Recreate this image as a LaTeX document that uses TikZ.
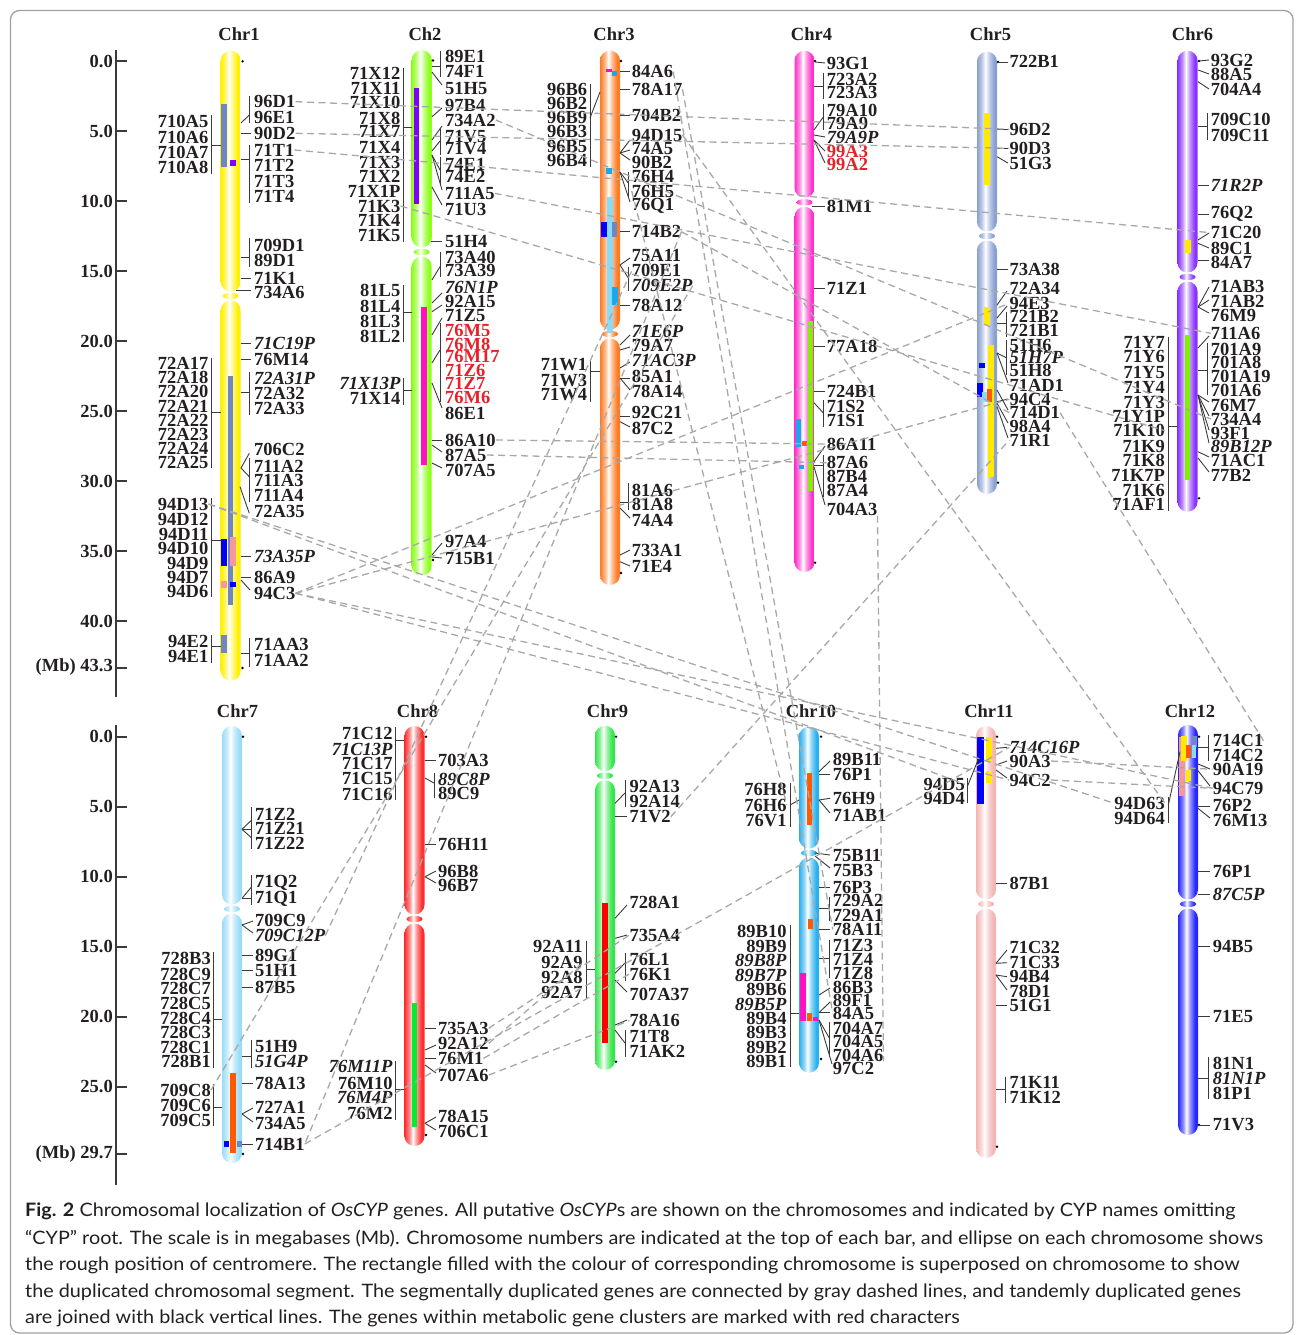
\documentclass[tikz,border=0pt]{standalone}
\usepackage{fontspec}
\setmainfont{Liberation Serif}
\newfontfamily\capfont[FakeStretch=1.07]{Lato}
\definecolor{txtc}{HTML}{231F20}
\definecolor{cnc}{HTML}{3A3A3A}
\definecolor{dashc}{HTML}{A8A8A8}
\definecolor{labred}{HTML}{E8202A}
\definecolor{framec}{HTML}{A0A0A0}
\definecolor{k1}{HTML}{FFF000}
\definecolor{k2}{HTML}{8CFF1A}
\definecolor{k3}{HTML}{FF7A22}
\definecolor{k4}{HTML}{FF30C8}
\definecolor{k5}{HTML}{8AA0D2}
\definecolor{k6}{HTML}{8A33FF}
\definecolor{k7}{HTML}{9ADCF8}
\definecolor{k8}{HTML}{FF2E2E}
\definecolor{k9}{HTML}{33E64A}
\definecolor{k10}{HTML}{2AB0EE}
\definecolor{k11}{HTML}{F4B4B4}
\definecolor{k12}{HTML}{2626FF}
\definecolor{s1}{HTML}{FFEA00}
\definecolor{s2}{HTML}{7FF200}
\definecolor{s3}{HTML}{FF5A00}
\definecolor{s4}{HTML}{FF10C0}
\definecolor{s5}{HTML}{6F86C6}
\definecolor{s6}{HTML}{7F00FF}
\definecolor{s7}{HTML}{88DCF8}
\definecolor{s8}{HTML}{FF0000}
\definecolor{s9}{HTML}{00EE30}
\definecolor{s10}{HTML}{18A8EE}
\definecolor{s11}{HTML}{F49898}
\definecolor{s12}{HTML}{0000FF}
\colorlet{chrc}{k1}
\pgfdeclarehorizontalshading[chrc]{chrsh}{100bp}{color(0bp)=(chrc);color(25bp)=(chrc);color(37bp)=(chrc!55!white);color(46bp)=(white);color(55bp)=(chrc!50!white);color(68bp)=(chrc);color(100bp)=(chrc)}
\newcommand\lf{\fontsize{18.5}{18.5}\selectfont\bfseries}
\tikzset{
 lab/.style={font=\lf, inner sep=0pt, text=txtc},
 nrm/.style={},
 itl/.style={font=\lf\itshape},
 red2/.style={text=labred},
 cn/.style={draw=cnc, line width=0.9pt},
 axl/.style={draw=cnc, line width=2pt},
 dup/.style={draw=dashc, line width=1.3pt, dash pattern=on 7pt off 4.5pt},
 capt/.style={font=\capfont\fontsize{18.5}{18.5}\selectfont, inner sep=0pt, text=txtc, anchor=west},
}
\newcommand\chrom[6]{%
 \colorlet{chrc}{#6}%
 \shade[shading=chrsh, rounded corners=9.9pt] (#2-10,#3) rectangle (#2+10,#4-4.5);
 \shade[shading=chrsh, rounded corners=9.9pt] (#2-10,#4+4.5) rectangle (#2+10,#5);
 \shade[shading=chrsh] (#2,#4) ellipse (8 and 3.2);
 \coordinate (#1) at (#2,#3);
}
\newcommand\RS[3]{\foreach \qy/\qt/\qs in {#3}{\node[lab,\qs,anchor=west] (#1-\qt) at (#2,\qy) {\qt};}}
\newcommand\LS[3]{\foreach \qy/\qt/\qs in {#3}{\node[lab,\qs,anchor=east] (#1-\qt) at (#2,\qy) {\qt};}}
\newcommand\Cx[4]{\draw[cn] (#1,#2) -- (#3,#4);}
\newcommand\Bk[3]{\draw[cn] (#1,#2) -- (#1,#3);}
\newcommand\Sg[5]{\fill[#5] (#1,#2) rectangle (#3,#4);}
\newcommand\Dt[2]{\fill[black] (#1,#2) circle (1.3);}
\begin{document}
\begin{tikzpicture}[x=1pt,y=-1pt]
\useasboundingbox (0,0) rectangle (1295,1335);
\draw[framec, line width=1.3pt, rounded corners=9pt] (10.5,10.5) rectangle (1293,1333);
% axes
\draw[axl] (116,50) -- (116,697);
\foreach \v [count=\i] in {0,5,...,40} {\draw[axl] (116,61.3+14*\v) -- (127,61.3+14*\v); \node[lab,anchor=east] (ta\i) at (113,61.3+14*\v) {\v.0};}
\draw[axl] (116,667.5) -- (127,667.5); \node[lab,anchor=east] (taM) at (113,667.5) {(Mb) 43.3};
\draw[axl] (116,725) -- (116,1185);
\foreach \v [count=\i] in {0,5,...,25} {\draw[axl] (116,736.7+14*\v) -- (127,736.7+14*\v); \node[lab,anchor=east] (ba\i) at (113,736.7+14*\v) {\v.0};}
\draw[axl] (116,1154) -- (127,1154); \node[lab,anchor=east] (baM) at (113,1154) {(Mb) 29.7};
% titles
\node[lab] (T1) at (239,34) {Chr1};
\node[lab] (T2) at (425,34) {Ch2};
\node[lab] (T3) at (614,34) {Chr3};
\node[lab] (T4) at (811.5,34) {Chr4};
\node[lab] (T5) at (990.5,34) {Chr5};
\node[lab] (T6) at (1192.5,34) {Chr6};
\node[lab] (T7) at (237.5,710.7) {Chr7};
\node[lab] (T8) at (417.5,710.7) {Chr8};
\node[lab] (T9) at (607.5,710.7) {Chr9};
\node[lab] (T10) at (811,710.7) {Chr10};
\node[lab] (T11) at (989,710.7) {Chr11};
\node[lab] (T12) at (1190,710.7) {Chr12};
% chromosomes
\chrom{C1}{230.7}{50.7}{296}{680.7}{k1}
\chrom{C2}{421.7}{50}{252}{575.7}{k2}
\chrom{C3}{610}{50.7}{334}{585}{k3}
\chrom{C4}{804.5}{50.7}{202.3}{572}{k4}
\chrom{C5}{987}{51.7}{236}{494}{k5}
\chrom{C6}{1187.5}{50.7}{277}{511.7}{k6}
\chrom{C7}{232}{726}{909}{1163}{k7}
\chrom{C8}{414.5}{726}{919}{1146}{k8}
\chrom{C9}{605}{725.7}{775.7}{1070}{k9}
\chrom{C10}{809}{726.7}{853}{1072.7}{k10}
\chrom{C11}{986}{726}{904}{1158}{k11}
\chrom{C12}{1188}{725}{904}{1135}{k12}
% segments
\Sg{220.7}{104}{226.7}{167.3}{s5}\Sg{230}{160}{236}{165.7}{s6}\Sg{228.3}{375.7}{233.3}{605}{s5}
\Sg{221}{539}{226.7}{566}{s12}\Sg{230}{537.3}{236}{566}{s11}\Sg{221}{581}{227}{587.7}{s11}
\Sg{230}{581.7}{236}{586.7}{s12}\Sg{221}{635}{227}{653.3}{s5}
\Sg{414}{87.7}{419.3}{204.3}{s6}\Sg{420.7}{307.3}{426.7}{465}{s4}
\Sg{606}{69.5}{611.7}{71.7}{s4}\Sg{611.7}{70.7}{617.3}{75.7}{s10}\Sg{605.7}{168.3}{611.7}{174}{s10}
\Sg{606.7}{197.3}{612.7}{333.3}{s7}\Sg{601}{221.7}{606.7}{237.3}{s12}\Sg{611.7}{221.7}{617.3}{237.3}{s5}
\Sg{612.3}{286.7}{618.3}{305}{s10}
\Sg{807.7}{320.7}{813.3}{490.7}{s2}\Sg{795.7}{419.3}{801}{446.7}{s10}\Sg{801.7}{440.7}{806.7}{446}{s3}
\Sg{799}{465}{804.3}{469.3}{s10}
\Sg{984.3}{113.3}{990}{185}{s1}\Sg{984.3}{307.3}{990}{325}{s1}\Sg{988.3}{345}{994}{476.7}{s1}
\Sg{979.3}{363.3}{985}{368.3}{s12}\Sg{977.3}{382.7}{983.3}{396.7}{s12}\Sg{981.7}{391.7}{988.3}{401.7}{s7}
\Sg{986.7}{389.3}{992.3}{401.7}{s3}
\Sg{1185}{335}{1190}{480}{s2}\Sg{1185}{240}{1191}{253.3}{s1}
\Sg{230}{1072.7}{235.7}{1153.3}{s3}\Sg{224}{1140.7}{229.3}{1147.3}{s12}\Sg{236.7}{1140.7}{242.3}{1147.3}{s5}
\Sg{411.7}{1003.3}{417.3}{1126.7}{s9}
\Sg{602.3}{903.3}{608.3}{1042.7}{s8}
\Sg{806.7}{772.7}{812.3}{825}{s3}\Sg{807.7}{919.3}{813.3}{929.3}{s3}\Sg{800}{972.7}{805.7}{1021}{s4}
\Sg{806.7}{1012.7}{812.3}{1021}{s3}\Sg{813.3}{1017.3}{818.3}{1021}{s4}
\Sg{977.3}{736.7}{984}{804.3}{s12}\Sg{986}{736.7}{991.7}{760.7}{s1}\Sg{986}{770.7}{991.7}{782.7}{s1}
\Sg{1179.3}{736.7}{1185}{796}{s11}\Sg{1180.7}{736}{1186.7}{760.7}{s1}\Sg{1186}{745}{1191}{758.3}{s3}
\Sg{1191.7}{736}{1197.3}{746.7}{s5}\Sg{1191.7}{745}{1196}{758.3}{s7}\Sg{1186}{770}{1191}{780.7}{s1}
% dots
\Dt{242.5}{61.3}\Dt{242.5}{668}\Dt{433}{60.5}\Dt{433}{560}\Dt{621}{61}\Dt{621}{573}
\Dt{815}{61}\Dt{815}{562.7}\Dt{998}{62}\Dt{998}{482.7}\Dt{1199}{61}\Dt{1199}{498.3}
\Dt{243}{736.7}\Dt{243}{1154}\Dt{426}{736.7}\Dt{426}{1135}\Dt{616}{736.7}\Dt{616}{1061.7}
\Dt{821}{736.7}\Dt{821}{1059}\Dt{997}{736.7}\Dt{997}{1146.7}\Dt{1199}{736.7}\Dt{1199}{1125}
% ---------- Chr1 labels
\RS{c1}{254}{101.7/96D1/nrm,117.7/96E1/nrm,133.3/90D2/nrm,150/71T1/nrm,165.5/71T2/nrm,181/71T3/nrm,196/71T4/nrm,245/709D1/nrm,260/89D1/nrm,278.3/71K1/nrm,292.7/734A6/nrm,343.3/71C19P/itl,359.3/76M14/nrm,378.3/72A31P/itl,393.3/72A32/nrm,408.3/72A33/nrm,449.3/706C2/nrm,466/711A2/nrm,480/711A3/nrm,495/711A4/nrm,511.7/72A35/nrm,556.7/73A35P/itl,577.3/86A9/nrm,593.3/94C3/nrm,644/71AA3/nrm,660/71AA2/nrm}
\LS{c1}{208.5}{121.7/710A5/nrm,137.3/710A6/nrm,152.7/710A7/nrm,167.3/710A8/nrm,363.3/72A17/nrm,377.5/72A18/nrm,391.7/72A20/nrm,405.9/72A21/nrm,420.1/72A22/nrm,434.3/72A23/nrm,448.5/72A24/nrm,462.7/72A25/nrm,504/94D13/nrm,519/94D12/nrm,534/94D11/nrm,548.5/94D10/nrm,563/94D9/nrm,577.5/94D7/nrm,591.5/94D6/nrm,641.7/94E2/nrm,656.7/94E1/nrm}
\Bk{249.3}{96}{123}\Cx{241}{123}{249.3}{115}\Cx{241}{133.3}{251}{133.3}
\Bk{249.3}{145}{203}\Cx{241}{159}{249.3}{159}\Bk{249.3}{238}{267}\Cx{241}{257}{249.3}{257}
\Cx{241}{278.3}{251}{278.3}\Cx{235.7}{290.7}{251}{290.7}\Cx{241}{343.3}{251}{343.3}\Cx{241}{359.3}{251}{359.3}
\Bk{249.3}{371.7}{415}\Cx{241}{392.7}{249.3}{392.7}\Cx{241}{468}{249.3}{453.3}\Bk{249.3}{458}{502}
\Cx{241}{468}{249.3}{476.7}\Cx{240}{486.7}{249.3}{513.3}\Cx{241}{556.7}{251}{556.7}\Cx{241}{577.3}{251}{577.3}
\Cx{241}{580}{250}{590}\Bk{249.3}{638}{666.7}\Cx{241}{653.3}{249.3}{653.3}
\Bk{211.7}{115}{174}\Cx{211.7}{145}{221}{145}\Bk{211.7}{358}{468}\Cx{211.7}{412.7}{221}{412.7}
\Bk{211.7}{498}{597}\Cx{211.7}{540}{221}{540}\Bk{211.7}{635}{663}\Cx{211.7}{646.7}{221}{646.7}
% ---------- Chr2 labels
\RS{c2}{445}{56/89E1/nrm,71.7/74F1/nrm,88.3/51H5/nrm,105/97B4/nrm,120/734A2/nrm,136.7/71V5/nrm,148.3/71V4/nrm,164/74E1/nrm,176.7/74E2/nrm,193.3/711A5/nrm,209/71U3/nrm,241.7/51H4/nrm,257.3/73A40/nrm,270/73A39/nrm,287.3/76N1P/itl,301.7/92A15/nrm,315/71Z5/nrm,330/76M5/red2,344/76M8/red2,356.7/76M17/red2,370/71Z6/red2,383.3/71Z7/red2,397.3/76M6/red2,413.3/86E1/nrm,440/86A10/nrm,455/87A5/nrm,470/707A5/nrm,541.7/97A4/nrm,558.3/715B1/nrm}
\LS{c2}{400.5}{73.3/71X12/nrm,88.3/71X11/nrm,102.7/71X10/nrm,118.3/71X8/nrm,131.7/71X7/nrm,147.3/71X4/nrm,162.7/71X3/nrm,176.7/71X2/nrm,191.7/71X1P/nrm,206/71K3/nrm,220.7/71K4/nrm,235/71K5/nrm,290.7/81L5/nrm,306.7/81L4/nrm,321.7/81L3/nrm,336/81L2/nrm,383.3/71X13P/itl,398.3/71X14/nrm}
\Bk{440}{50.7}{77.3}\Cx{432}{66.7}{440}{66.7}\Cx{432}{72}{442}{85}\Cx{432}{116.7}{442}{108}\Cx{432}{140}{442}{126}
\Bk{440}{128}{155}\Cx{432}{151}{440}{141}\Bk{440}{156.7}{184}\Cx{432}{155}{440}{170}\Cx{432}{155}{442}{190}
\Cx{432}{187}{442}{205}\Cx{431}{241.7}{442}{241.7}\Bk{440}{251.7}{276.7}\Cx{432}{280}{440}{266.7}
\Cx{432}{303}{442}{293}\Cx{432}{311.7}{442}{305}\Cx{432}{335}{442}{318}\Bk{440}{323.3}{401.7}\Cx{432}{363}{440}{350}
\Cx{432}{383}{442}{408}\Cx{432}{440}{442}{440}\Cx{432}{445}{442}{452}\Cx{432}{463}{442}{468}
\Cx{432}{555}{442}{543}\Cx{432}{557}{442}{558}
\Bk{403}{68.3}{241.7}\Cx{403}{127.3}{411.7}{127.3}\Bk{403}{285}{341.7}\Cx{403}{312.7}{411.7}{312.7}
\Bk{403}{378}{405}\Cx{403}{390}{411.7}{390}
% ---------- Chr3 labels
\RS{c3}{631.7}{71.7/84A6/nrm,89/78A17/nrm,115.7/704B2/nrm,135/94D15/nrm,148.3/74A5/nrm,162.7/90B2/nrm,176.7/76H4/nrm,191/76H5/nrm,205.7/76Q1/nrm,231.7/714B2/nrm,255.7/75A11/nrm,270.7/709E1/nrm,285.7/709E2P/itl,305/78A12/nrm,331.7/71E6P/itl,345/79A7/nrm,360.7/71AC3P/itl,376/85A1/nrm,391.7/78A14/nrm,412.7/92C21/nrm,428.3/87C2/nrm,490/81A6/nrm,504/81A8/nrm,520/74A4/nrm,550/733A1/nrm,566.7/71E4/nrm}
\LS{c3}{587.3}{89.3/96B6/nrm,103.3/96B2/nrm,117.7/96B9/nrm,131.7/96B3/nrm,146/96B5/nrm,160.7/96B4/nrm,365/71W1/nrm,380.7/71W3/nrm,395/71W4/nrm}
\Cx{620}{71.7}{630}{71.7}\Cx{620}{89}{630}{89}\Cx{620}{115.7}{630}{115.7}
\Cx{620}{153}{630}{140}\Cx{620}{153}{630}{150}\Cx{620}{153}{630}{160}
\Bk{628.3}{171.7}{196.7}\Cx{620}{172}{628.3}{183}\Cx{620}{172}{630}{202}\Cx{620}{231.7}{630}{231.7}
\Cx{620}{265}{630}{258}\Bk{628.3}{266.7}{290.7}\Cx{620}{265}{628.3}{278}\Cx{620}{305}{630}{305}
\Cx{620}{345}{630}{335}\Cx{620}{350}{630}{347}\Cx{620}{368}{630}{362}\Cx{620}{378}{630}{378}\Cx{620}{378}{630}{390}
\Cx{620}{416}{630}{416}\Cx{620}{421.7}{630}{427}\Bk{628.3}{483.3}{510}\Cx{620}{502.7}{628.3}{502.7}
\Cx{620}{508}{630}{518}\Cx{620}{555}{630}{550}\Cx{620}{561.7}{630}{566}
\Bk{590}{84}{166.7}\Cx{590}{118}{600}{92}\Bk{590}{360}{401.7}\Cx{590}{371.7}{600}{371.7}
% ---------- Chr4 labels
\RS{c4}{826.7}{63.3/93G1/nrm,79.3/723A2/nrm,92.7/723A3/nrm,110/79A10/nrm,123.3/79A9/nrm,137.3/79A9P/itl,151.7/99A3/red2,164/99A2/red2,206.7/81M1/nrm,288.3/71Z1/nrm,346.7/77A18/nrm,391.7/724B1/nrm,406.7/71S2/nrm,420.7/71S1/nrm,444/86A11/nrm,462.7/87A6/nrm,476.7/87B4/nrm,490.7/87A4/nrm,509.3/704A3/nrm}
\Cx{815}{62}{825}{63}\Bk{823.3}{72.7}{99.3}\Cx{814}{86}{823.3}{86}\Bk{823.3}{104}{130}\Cx{814}{130}{823.3}{117}
\Cx{814}{135}{825}{137}\Cx{814}{140}{825}{151}\Cx{814}{140}{825}{163}\Cx{812}{206.7}{825}{206.7}
\Cx{814}{288.3}{825}{288.3}\Cx{814}{346.7}{825}{346.7}\Cx{814}{391.7}{825}{391.7}
\Bk{823.3}{400}{426.7}\Cx{814}{402.7}{823.3}{413}\Cx{814}{461.7}{825}{446}
\Bk{823.3}{455}{496.7}\Cx{814}{465}{823.3}{465}\Cx{814}{466.7}{825}{505}
% ---------- Chr5 labels
\RS{c5}{1009.3}{61.7/722B1/nrm,129.3/96D2/nrm,148.3/90D3/nrm,163.3/51G3/nrm,269.3/73A38/nrm,288.3/72A34/nrm,303.3/94E3/nrm,316.7/721B2/nrm,330.7/721B1/nrm,345/51H6/nrm,357.3/51H7P/itl,370.7/51H8/nrm,385/71AD1/nrm,399.3/94C4/nrm,412.7/714D1/nrm,426/98A4/nrm,440/71R1/nrm}
\Cx{998}{62}{1008}{62}\Cx{997}{129.3}{1008}{129.3}\Cx{997}{148.3}{1008}{148.3}\Cx{997}{156.7}{1008}{163}
\Cx{997}{269.3}{1008}{269.3}\Cx{997}{305}{1007}{291}\Cx{997}{318}{1007}{306}
\Bk{1006.7}{311.7}{336.7}\Cx{997}{323}{1006.7}{323}\Bk{1006.7}{340}{375}\Cx{997}{353}{1006.7}{358}
\Cx{997}{353}{1008}{383}\Cx{997}{401.7}{1008}{399}\Cx{997}{390}{1008}{410}\Cx{997}{403.3}{1008}{423}\Cx{997}{406.7}{1008}{438}
% ---------- Chr6 labels
\RS{c6}{1210.7}{60/93G2/nrm,74/88A5/nrm,89.3/704A4/nrm,119.3/709C10/nrm,135/709C11/nrm,185.7/71R2P/itl,214/76Q2/nrm,232.7/71C20/nrm,248.3/89C1/nrm,262.7/84A7/nrm,286.7/71AB3/nrm,301.7/71AB2/nrm,315/76M9/nrm,333.3/711A6/nrm,349.3/701A9/nrm,362.7/701A8/nrm,376/701A19/nrm,390/701A6/nrm,405/76M7/nrm,419/734A4/nrm,433.3/93F1/nrm,446.7/89B12P/itl,460.7/71AC1/nrm,475/77B2/nrm}
\LS{c6}{1165}{342.7/71Y7/nrm,356.7/71Y6/nrm,372.3/71Y5/nrm,387.7/71Y4/nrm,402.3/71Y3/nrm,416.7/71Y1P/nrm,430.7/71K10/nrm,446/71K9/nrm,460.7/71K8/nrm,475/71K7P/nrm,490/71K6/nrm,504/71AF1/nrm}
\Cx{1199}{61}{1209}{60}\Cx{1198}{70}{1209}{74}\Cx{1198}{81.7}{1209}{89}\Bk{1207}{113.3}{140}\Cx{1198}{126}{1207}{126}
\Cx{1198}{185.7}{1209}{185.7}\Cx{1198}{214}{1209}{214}\Cx{1198}{240}{1209}{233}\Cx{1198}{243.3}{1209}{248}
\Cx{1198}{260.7}{1209}{260.7}\Cx{1198}{307}{1209}{287}\Cx{1198}{307}{1209}{300}\Cx{1198}{307}{1209}{313}
\Cx{1198}{348}{1209}{336}\Bk{1207}{343.3}{395}\Cx{1198}{370.7}{1207}{370.7}
\Cx{1198}{395}{1209}{402}\Cx{1198}{395}{1209}{416}\Cx{1198}{395}{1209}{430}\Cx{1198}{395}{1209}{443}
\Cx{1198}{451.7}{1209}{457}\Cx{1198}{458}{1209}{472}
\Bk{1168}{336.7}{510.7}\Cx{1168}{426.7}{1177}{426.7}
% ---------- Chr7 labels
\RS{c7}{255}{814/71Z2/nrm,828.3/71Z21/nrm,843.3/71Z22/nrm,882.7/71Q2/nrm,899/71Q1/nrm,920/709C9/nrm,935.7/709C12P/itl,955.7/89G1/nrm,970/51H1/nrm,987.3/87B5/nrm,1046.7/51H9/nrm,1061.7/51G4P/itl,1083.3/78A13/nrm,1107.3/727A1/nrm,1123.3/734A5/nrm,1144/714B1/nrm}
\LS{c7}{211}{958.3/728B3/nrm,974/728C9/nrm,988.3/728C7/nrm,1003.3/728C5/nrm,1018.3/728C4/nrm,1032.7/728C3/nrm,1047.3/728C1/nrm,1061/728B1/nrm,1090/709C8/nrm,1105/709C6/nrm,1120/709C5/nrm}
\Bk{251.7}{807.3}{849.3}\Cx{242}{829.3}{251.7}{820}\Cx{242}{829.3}{251.7}{829.3}\Cx{242}{829.3}{251.7}{838}
\Bk{251.7}{875}{905}\Cx{242}{898.3}{251.7}{886.7}\Cx{242}{898.3}{251.7}{898.3}
\Cx{242}{925}{253}{921}\Cx{242}{925}{253}{933}\Cx{242}{955.7}{253}{955.7}\Cx{242}{970}{253}{970}\Cx{242}{987.3}{253}{987.3}
\Bk{251.7}{1040}{1068.3}\Cx{242}{1056.7}{251.7}{1056.7}\Cx{242}{1083.3}{253}{1083.3}
\Cx{242}{1114}{253}{1108}\Cx{242}{1114}{253}{1122}\Cx{242}{1144}{253}{1144}
\Bk{213.3}{951.7}{1068.3}\Cx{213.3}{1019.3}{222}{1019.3}\Bk{213.3}{1084}{1126}\Cx{213.3}{1107.7}{222}{1107.7}
% ---------- Chr8 labels
\RS{c8}{438}{760.7/703A3/nrm,779.3/89C8P/itl,793.3/89C9/nrm,844.3/76H11/nrm,871/96B8/nrm,885/96B7/nrm,1028.3/735A3/nrm,1043.3/92A12/nrm,1058.3/76M1/nrm,1075/707A6/nrm,1116.7/78A15/nrm,1131.7/706C1/nrm}
\LS{c8}{392.7}{733.3/71C12/nrm,749/71C13P/itl,763.3/71C17/nrm,778.3/71C15/nrm,794/71C16/nrm,1066.7/76M11P/itl,1083.3/76M10/nrm,1097.3/76M4P/itl,1113.3/76M2/nrm}
\Cx{425}{760.7}{436}{760.7}\Bk{434}{773.3}{798.3}\Cx{425}{778}{434}{783}\Cx{425}{844.3}{436}{844.3}
\Cx{425}{876.7}{436}{871}\Cx{425}{876.7}{436}{883}\Cx{425}{1028.3}{436}{1028.3}\Cx{425}{1050}{436}{1045}
\Cx{425}{1058.3}{436}{1058.3}\Cx{425}{1065}{436}{1073}\Cx{425}{1123.3}{436}{1117}\Cx{425}{1123.3}{436}{1130}
\Bk{395}{727.3}{800}\Cx{395}{740.7}{404}{740.7}\Bk{395}{1060.7}{1120}\Cx{395}{1089.3}{404}{1089.3}
% ---------- Chr9 labels
\RS{c9}{629.3}{786.7/92A13/nrm,801/92A14/nrm,816.7/71V2/nrm,902.7/728A1/nrm,935/735A4/nrm,959/76L1/nrm,974/76K1/nrm,994/707A37/nrm,1020.7/78A16/nrm,1036.7/71T8/nrm,1051.7/71AK2/nrm}
\LS{c9}{582.7}{946.7/92A11/nrm,962.7/92A9/nrm,977.3/92A8/nrm,992.7/92A7/nrm}
\Bk{625}{780}{806.7}\Cx{615}{803.3}{625}{793}\Cx{615}{816.7}{627}{816.7}\Cx{615}{918.3}{627}{905}\Cx{615}{938.3}{627}{935}
\Bk{625}{953.3}{980.7}\Cx{615}{973.3}{625}{963}\Cx{615}{980}{627}{992}\Cx{615}{1025}{627}{1020}
\Bk{625}{1030}{1056.7}\Cx{615}{1030}{625}{1043}
\Bk{586}{940.7}{999.3}\Cx{586}{969.3}{595}{969.3}
% ---------- Chr10 labels
\RS{c10}{832.7}{759.3/89B11/nrm,774/76P1/nrm,798.3/76H9/nrm,815/71AB1/nrm,855.7/75B11/nrm,870/75B3/nrm,887.3/76P3/nrm,900.7/729A2/nrm,915/729A1/nrm,929.3/78A11/nrm,945/71Z3/nrm,959.3/71Z4/nrm,973.3/71Z8/nrm,987.3/86B3/nrm,1000.7/89F1/nrm,1013.3/84A5/nrm,1028.3/704A7/nrm,1041.7/704A5/nrm,1055/704A6/nrm,1068.3/97C2/nrm}
\LS{c10}{786.7}{789/76H8/nrm,805/76H6/nrm,821/76V1/nrm,931.7/89B10/nrm,946/89B9/nrm,960.7/89B8P/itl,975/89B7P/itl,989.3/89B6/nrm,1004/89B5P/itl,1018.3/89B4/nrm,1032.7/89B3/nrm,1047.3/89B2/nrm,1061.7/89B1/nrm}
\Cx{819}{771.7}{830}{761}\Cx{819}{774}{830}{774}\Cx{819}{800}{830}{798.3}\Cx{819}{800}{830}{813}
\Cx{815}{853}{830}{855}\Cx{815}{856}{830}{868}\Cx{819}{887.3}{830}{887.3}\Bk{829.3}{896.7}{920.7}\Cx{819}{908.3}{829.3}{908.3}
\Cx{819}{929.3}{830}{929.3}\Bk{829.3}{940}{978.3}\Cx{819}{958.3}{829.3}{958.3}\Cx{819}{995}{830}{988}
\Cx{819}{1012.7}{830}{1002}\Cx{819}{1012.7}{830}{1012.7}\Bk{829.3}{1021.7}{1056.7}\Cx{819}{1020}{829.3}{1038}\Cx{819}{1020}{832}{1064}
\Bk{790}{782.7}{826.7}\Cx{790}{805}{799}{800}\Bk{790}{925}{1067.3}\Cx{790}{1013.3}{799}{1013.3}
% ---------- Chr11 labels
\RS{c11}{1009.3}{747.3/714C16P/itl,761/90A3/nrm,780/94C2/nrm,883.3/87B1/nrm,947.3/71C32/nrm,962.7/71C33/nrm,976.7/94B4/nrm,991.7/78D1/nrm,1005/51G1/nrm,1082.7/71K11/nrm,1097.3/71K12/nrm}
\LS{c11}{965}{784.3/94D5/nrm,798.3/94D4/nrm}
\Cx{996}{748.3}{1007}{747.3}\Cx{996}{765}{1007}{761}\Cx{996}{770}{1007}{778}\Cx{996}{883.3}{1007}{883.3}
\Cx{996}{963.3}{1007}{950}\Cx{996}{963.3}{1007}{962.7}\Cx{996}{975}{1007}{976.7}\Cx{996}{975}{1007}{990}
\Cx{996}{1005}{1007}{1005}\Bk{1005.7}{1076.7}{1103.3}\Cx{996}{1089.3}{1005.7}{1089.3}
\Bk{967.3}{778.3}{803.3}\Cx{967.3}{786.7}{978}{760}
% ---------- Chr12 labels
\RS{c12}{1212.7}{740.7/714C1/nrm,755/714C2/nrm,769.3/90A19/nrm,788.3/94C79/nrm,805/76P2/nrm,820/76M13/nrm,871.7/76P1/nrm,894/87C5P/itl,946/94B5/nrm,1016.7/71E5/nrm,1063.3/81N1/nrm,1078.3/81N1P/itl,1093.3/81P1/nrm,1125/71V3/nrm}
\LS{c12}{1165}{803.3/94D63/nrm,818.3/94D64/nrm}
\Bk{1208.3}{735}{760.7}\Cx{1198}{747.3}{1208.3}{747.3}\Cx{1198}{764}{1210}{769}\Cx{1198}{770.7}{1210}{786}
\Cx{1198}{806.7}{1210}{806.7}\Cx{1198}{808.3}{1210}{818}\Cx{1198}{871.7}{1210}{871.7}\Cx{1198}{894}{1210}{894}
\Cx{1198}{946}{1210}{946}\Cx{1198}{1016.7}{1210}{1016.7}\Bk{1208.3}{1056.7}{1099.3}\Cx{1198}{1078.3}{1208.3}{1078.3}
\Cx{1198}{1125}{1210}{1125}
\Bk{1168.3}{797.3}{823.3}\Cx{1168.3}{805}{1180}{751.7}
% ---------- duplication lines
\draw[dup] (c1-96D1.east) -- (c5-96D2.west);
\draw[dup] (c1-90D2.east) -- (c5-90D3.west);
\draw[dup] (c1-71T1.east) -- (c6-71C20.west);
\draw[dup] (c2-71K3.east) -- (c6-71K10.east);
\draw[dup] (c2-711A5.east) -- (c6-711A6.west);
\draw[dup] (c2-734A2.east) -- (c6-734A4.west);
\draw[dup] (c2-86A10.east) -- (c4-86A11.west);
\draw[dup] (c2-87A5.east) -- (c4-87A6.west);
\draw[dup] (c1-94C3.east) -- (c5-94E3.west);
\draw[dup] (c1-94C3.east) -- (c5-94C4.west);
\draw[dup] (c3-714B2.east) -- (c5-714D1.west);
\draw[dup] (c3-76H5.west) -- (c10-76H6.east);
\draw[dup] (c3-84A6.east) -- (c10-84A5.west);
\draw[dup] (c3-78A17.east) -- (c10-78A11.west);
\draw[dup] (c4-704A3.south east) -- (c10-704A6.south east);
\draw[dup] (c1-94C3.east) -- (c11-94C2.west);
\draw[dup] (c1-94C3.east) -- (c12-94C79.west);
\draw[dup] (c1-94D13.east) -- (c11-94D5.east);
\draw[dup] (c1-94D13.east) -- (c12-94D63.west);
\draw[dup] (c11-90A3.east) -- (c12-90A19.west);
\draw[dup] (c11-94C2.east) -- (c12-94C79.west);
\draw[dup] (c5-714D1.east) -- (c12-714C1.east);
\draw[dup] (c3-94D15.east) -- (c12-94D63.east);
\draw[dup] (c3-714B2.east) -- (c7-714B1.east);
\draw[dup] (c7-714B1.east) -- (c11-714C16P.west);
\draw[dup] (c9-71V2.east) -- (c5-71R1.west);
\draw[dup] (c8-735A3.east) -- (c9-735A4.west);
\draw[dup] (c8-76M1.east) -- (c9-76K1.west);
\draw[dup] (c8-707A6.east) -- (c9-78A16.west);
\draw[dup] (c8-92A12.east) -- (c9-92A9.east);
\draw[dup] (c7-709C8.east) -- (c3-709E2P.east);
\draw[dup] (c7-709C12P.east) -- (c3-709E1.west);
% ---------- caption
\node[capt] (cap1) at (25,1211) {\textbf{Fig. 2} Chromosomal localization of \textit{OsCYP} genes. All putative \textit{OsCYP}s are shown on the chromosomes and indicated by CYP names omitting};
\node[capt] (cap2) at (25,1238.5) {“CYP” root. The scale is in megabases (Mb). Chromosome numbers are indicated at the top of each bar, and ellipse on each chromosome shows};
\node[capt] (cap3) at (25,1265.5) {the rough position of centromere. The rectangle filled with the colour of corresponding chromosome is superposed on chromosome to show};
\node[capt] (cap4) at (25,1292) {the duplicated chromosomal segment. The segmentally duplicated genes are connected by gray dashed lines, and tandemly duplicated genes};
\node[capt] (cap5) at (25,1318) {are joined with black vertical lines. The genes within metabolic gene clusters are marked with red characters};
\end{tikzpicture}
\end{document}
